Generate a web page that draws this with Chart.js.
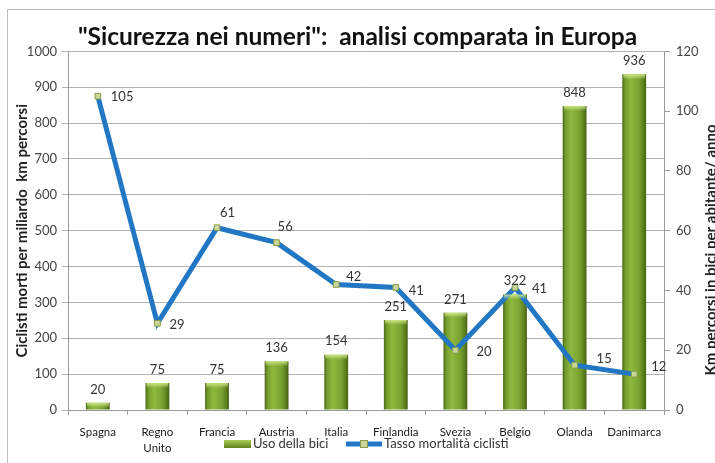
<!DOCTYPE html>
<html>
<head>
<meta charset="utf-8">
<script src="https://cdn.jsdelivr.net/npm/chart.js@4.4.1/dist/chart.umd.min.js"></script>
<style>
  html, body { margin: 0; padding: 0; background: #fff; }
  #wrap { width: 715px; height: 463px; position: relative; }
</style>
</head>
<body>
<div id="wrap"><canvas id="chart-area"></canvas></div>
<script>
var countries = ["Spagna", ["Regno", "Unito"], "Francia", "Austria", "Italia", "Finlandia", "Svezia", "Belgio", "Olanda", "Danimarca"];
var usoBici = [20, 75, 75, 136, 154, 251, 271, 322, 848, 936];
var mortalita = [105, 29, 61, 56, 42, 41, 20, 41, 15, 12];
var leftTicks = [0, 100, 200, 300, 400, 500, 600, 700, 800, 900, 1000];
var rightTicks = [0, 20, 40, 60, 80, 100, 120];

var FONT = "Lato, 'Open Sans', sans-serif";
var BLUE = "#2277c4";

// where each line label sits relative to its point (as in the original)
var lineLabelShift = [[13, 1], [12, 1], [3, -15], [1, -16], [10, -8], [13, 3], [21, 2], [17, 1], [22, -6], [17, -7]];

function barFill(context) {
    var chart = context.chart;
    if (!chart.chartArea) return "#77a02e";
    var x = chart.scales.x.getPixelForValue(context.dataIndex);
    var g = chart.ctx.createLinearGradient(x - 12, 0, x + 12, 0);
    g.addColorStop(0, "#4a6616");
    g.addColorStop(0.12, "#739b2c");
    g.addColorStop(0.35, "#8fb93e");
    g.addColorStop(0.7, "#7aa232");
    g.addColorStop(0.9, "#5a7c1c");
    g.addColorStop(1, "#445f14");
    return g;
}

// value labels, axis titles, frame and legend
var extras = {
    id: "extras",
    beforeDraw: function (chart) {
        var ctx = chart.ctx;
        ctx.save();
        ctx.strokeStyle = "#bdbdbd";
        ctx.lineWidth = 1;
        ctx.strokeRect(7.5, 9.5, 800, 600);
        ctx.restore();
    },
    afterDatasetsDraw: function (chart) {
        var ctx = chart.ctx;
        ctx.save();
        // bevel highlight on bar tops
        chart.getDatasetMeta(0).data.forEach(function (b) {
            var w = b.width;
            var g = ctx.createLinearGradient(0, b.y, 0, b.y + 5);
            g.addColorStop(0, "rgba(210,235,140,0.9)");
            g.addColorStop(1, "rgba(210,235,140,0)");
            ctx.fillStyle = g;
            ctx.fillRect(b.x - w / 2 + 1, b.y, w - 2, 5);
        });
        ctx.font = "13px " + FONT;
        ctx.fillStyle = "#333";
        var bars = chart.getDatasetMeta(0).data;
        ctx.textAlign = "center";
        ctx.textBaseline = "bottom";
        bars.forEach(function (b, i) {
            ctx.fillText(String(usoBici[i]), b.x, b.y - 7);
        });
        var pts = chart.getDatasetMeta(1).data;
        ctx.textAlign = "left";
        ctx.textBaseline = "middle";
        pts.forEach(function (p, i) {
            var s = lineLabelShift[i];
            ctx.fillText(String(mortalita[i]), p.x + s[0], p.y + s[1]);
        });
        ctx.restore();
    },
    afterDraw: function (chart) {
        var ctx = chart.ctx;
        var area = chart.chartArea;
        ctx.save();
        ctx.fillStyle = "#222";
        ctx.font = "bold 15px " + FONT;
        ctx.textAlign = "center";
        ctx.textBaseline = "middle";
        ctx.translate(22, (area.top + area.bottom) / 2);
        ctx.rotate(-Math.PI / 2);
        ctx.fillText("Ciclisti morti per miliardo  km percorsi", 0, 0);
        ctx.restore();

        ctx.save();
        ctx.fillStyle = "#222";
        ctx.font = "bold 15px " + FONT;
        ctx.textAlign = "center";
        ctx.textBaseline = "middle";
        ctx.translate(711, 250);
        ctx.rotate(-Math.PI / 2);
        ctx.fillText("Km percorsi in bici per abitante/ anno", 0, 0);
        ctx.restore();

        // legend
        ctx.save();
        var ly = 444;
        ctx.font = "13px " + FONT;
        ctx.textBaseline = "middle";
        ctx.textAlign = "left";
        var g = ctx.createLinearGradient(0, ly - 4, 0, ly + 4);
        g.addColorStop(0, "#a9cc5a");
        g.addColorStop(1, "#5e821f");
        ctx.fillStyle = g;
        ctx.fillRect(224, ly - 4, 27, 8);
        ctx.fillStyle = "#333";
        ctx.fillText(chart.data.datasets[0].label, 253, ly);
        ctx.strokeStyle = BLUE;
        ctx.lineWidth = 5;
        ctx.beginPath();
        ctx.moveTo(346, ly);
        ctx.lineTo(382, ly);
        ctx.stroke();
        ctx.fillStyle = "#c9d79a";
        ctx.strokeStyle = "#8a9c4c";
        ctx.lineWidth = 1;
        ctx.fillRect(360, ly - 4, 8, 8);
        ctx.strokeRect(360.5, ly - 3.5, 7, 7);
        ctx.fillStyle = "#333";
        ctx.fillText(chart.data.datasets[1].label, 384, ly);
        ctx.restore();
    }
};

var config = {
    type: "bar",
    data: {
        labels: countries,
        datasets: [{
            type: "bar",
            label: "Uso della bici",
            data: usoBici,
            yAxisID: "y",
            backgroundColor: barFill,
            borderWidth: 0,
            barPercentage: 0.4,
            categoryPercentage: 1,
            order: 2
        }, {
            type: "line",
            label: "Tasso mortalità ciclisti",
            data: mortalita,
            yAxisID: "y1",
            borderColor: BLUE,
            borderWidth: 5,
            tension: 0,
            pointStyle: "rect",
            pointRadius: 4,
            pointBackgroundColor: "#c9d79a",
            pointBorderColor: "#8a9c4c",
            pointBorderWidth: 1,
            order: 1
        }]
    },
    options: {
        responsive: true,
        maintainAspectRatio: false,
        animation: false,
        layout: { padding: { left: 0, right: 0, top: 0, bottom: 0 } },
        plugins: {
            legend: { display: false },
            tooltip: { enabled: false },
            title: {
                display: true,
                text: "\"Sicurezza nei numeri\":  analisi comparata in Europa",
                color: "#111",
                font: { family: FONT, size: 24.5, weight: "bold" },
                padding: { top: 22, bottom: 0 }
            }
        },
        scales: {
            x: {
                grid: { offset: true, drawOnChartArea: false, tickLength: 5, color: "#9a9a9a" },
                border: { color: "#9a9a9a" },
                ticks: { color: "#1a1a1a", font: { family: FONT, size: 11.5, lineHeight: 1.35 }, maxRotation: 0, autoSkip: false, padding: 10 },
                afterFit: function (s) { s.height = 53; }
            },
            y: {
                position: "left",
                min: 0,
                max: 1000,
                afterBuildTicks: function (s) { s.ticks = leftTicks.map(function (v) { return { value: v }; }); },
                grid: { color: "#b3b3b3", tickLength: 6 },
                border: { color: "#9a9a9a" },
                ticks: { color: "#444", font: { family: FONT, size: 13 }, padding: 5, callback: function (v) { return String(v); } },
                afterFit: function (s) { s.width = 68; }
            },
            y1: {
                position: "right",
                min: 0,
                max: 120,
                afterBuildTicks: function (s) { s.ticks = rightTicks.map(function (v) { return { value: v }; }); },
                grid: { drawOnChartArea: false, color: "#9a9a9a", tickLength: 6 },
                border: { color: "#9a9a9a" },
                ticks: { color: "#444", font: { family: FONT, size: 13 }, padding: 6, callback: function (v) { return String(v); } },
                afterFit: function (s) { s.width = 51; }
            }
        }
    },
    plugins: [extras]
};

window.onload = function () {
    var ctx = document.getElementById("chart-area").getContext("2d");
    window.myChart = new Chart(ctx, config);
};
</script>
</body>
</html>
